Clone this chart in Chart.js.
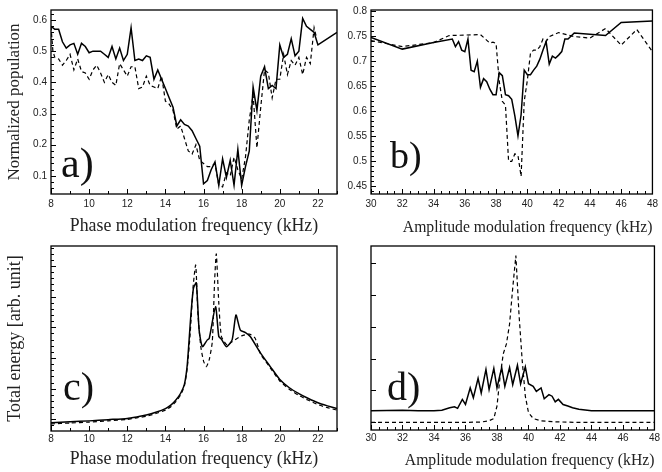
<!DOCTYPE html>
<html>
<head>
<meta charset="utf-8">
<script src="https://cdn.jsdelivr.net/npm/chart.js@4.4.1/dist/chart.umd.min.js"></script>
<style>
html, body { margin: 0; padding: 0; background: #fff; }
#wrap { position: relative; width: 662px; height: 472px; overflow: hidden; }
#wrap canvas { position: absolute; }
</style>
</head>
<body>
<div id="wrap">
  <canvas id="pa" width="340" height="240" style="left:0;top:0"></canvas>
  <canvas id="pb" width="332" height="240" style="left:330px;top:0"></canvas>
  <canvas id="pc" width="340" height="236" style="left:0;top:236px"></canvas>
  <canvas id="pd" width="332" height="236" style="left:330px;top:236px"></canvas>
</div>
<script>
// ---- panel a: phase modulation, normalized population ----
const aSolidX = [8,8.2,8.4,8.6,8.8,9,9.2,9.4,9.6,9.8,10,10.2,10.4,10.6,10.8,11,11.2,11.4,11.6,11.8,12,12.2,12.4,12.6,12.8,13,13.2,13.4,13.6,13.8,14,14.2,14.4,14.6,14.8,15,15.2,15.4,15.6,15.8,16,16.2,16.4,16.6,16.8,17,17.2,17.4,17.6,17.8,18,18.2,18.4,18.6,18.8,19,19.2,19.4,19.6,19.8,20,20.2,20.4,20.6,20.8,21,21.2,21.4,21.6,21.8,22,23];
const aSolidY = [0.58,0.57,0.57,0.53,0.51,0.52,0.525,0.49,0.525,0.515,0.495,0.5,0.5,0.5,0.49,0.48,0.515,0.475,0.51,0.47,0.49,0.575,0.47,0.475,0.47,0.485,0.48,0.41,0.44,0.41,0.38,0.35,0.32,0.26,0.28,0.265,0.26,0.245,0.22,0.195,0.075,0.085,0.12,0.145,0.07,0.155,0.095,0.15,0.07,0.185,0.07,0.13,0.18,0.385,0.31,0.42,0.45,0.38,0.39,0.38,0.52,0.48,0.49,0.54,0.485,0.5,0.605,0.58,0.57,0.56,0.52,0.56];
const aDashX = [8,8.1,8.2,8.4,8.6,8.8,9,9.2,9.4,9.6,9.8,10,10.2,10.4,10.6,10.8,11,11.2,11.4,11.6,11.8,12,12.2,12.4,12.6,12.8,13,13.2,13.4,13.6,13.8,14,14.2,14.4,14.6,14.8,15,15.2,15.4,15.6,15.8,16,16.2,16.4,16.6,16.8,17,17.2,17.4,17.6,17.8,18,18.2,18.4,18.6,18.8,19,19.2,19.4,19.6,19.8,20,20.2,20.4,20.6,20.8,21,21.2,21.4,21.6,21.8,21.9];
const aDashY = [0.58,0.5,0.48,0.475,0.455,0.47,0.49,0.44,0.475,0.435,0.43,0.41,0.44,0.455,0.43,0.4,0.425,0.4,0.39,0.46,0.44,0.42,0.45,0.45,0.38,0.385,0.42,0.39,0.385,0.38,0.42,0.34,0.33,0.31,0.25,0.26,0.22,0.18,0.17,0.2,0.15,0.14,0.13,0.13,0.14,0.07,0.065,0.11,0.1,0.16,0.12,0.09,0.16,0.28,0.36,0.19,0.32,0.44,0.43,0.35,0.41,0.41,0.49,0.425,0.47,0.455,0.48,0.425,0.48,0.46,0.575,0.55];
const aXTicks = [8,10,12,14,16,18,20,22];
const aYTicks = [0.1,0.2,0.3,0.4,0.5,0.6];

// ---- panel b: amplitude modulation, normalized population ----
const bSolidX = [30,32,34,35.2,35.4,35.6,35.8,36,36.2,36.4,36.6,36.8,37,37.2,37.4,37.6,37.8,38,38.2,38.4,38.6,38.8,39,39.2,39.4,39.6,39.8,40,40.2,40.4,40.6,40.8,41,41.2,41.4,41.6,41.8,42,42.2,42.4,42.6,43,45,46,48];
const bSolidY = [0.747,0.724,0.737,0.744,0.729,0.739,0.722,0.719,0.744,0.682,0.679,0.7,0.648,0.665,0.659,0.644,0.633,0.633,0.677,0.671,0.633,0.631,0.624,0.591,0.551,0.593,0.682,0.673,0.673,0.682,0.69,0.704,0.722,0.739,0.694,0.71,0.706,0.712,0.719,0.744,0.744,0.756,0.751,0.777,0.78];
const bDashX = [30,32,34,35,37,37.6,37.8,38,38.2,38.4,38.6,38.8,39,39.2,39.4,39.6,39.8,40,40.2,40.4,40.6,40.8,41,41.2,41.4,42,43,44,45,46,47,48];
const bDashY = [0.741,0.729,0.737,0.751,0.753,0.736,0.738,0.735,0.66,0.62,0.612,0.5,0.5,0.515,0.512,0.47,0.62,0.662,0.716,0.722,0.722,0.729,0.744,0.739,0.749,0.757,0.749,0.746,0.765,0.732,0.763,0.719];
const bXTicks = [30,32,34,36,38,40,42,44,46,48];
const bYTicks = [0.45,0.5,0.55,0.6,0.65,0.7,0.75,0.8];

// ---- panel c: phase modulation, total energy (arb. unit) ----
const cSolidX = [8,9,10,11,12,12.5,13,13.5,14,14.3,14.55,14.8,15,15.15,15.33,15.47,15.62,15.77,15.94,16.2,16.3,16.63,16.8,16.93,17.2,17.5,17.7,17.93,18.2,18.45,19,19.5,20,20.5,21,21.5,22,22.5,23];
const cSolidY = [-0.11,-0.08,-0.05,-0.01,0.03,0.08,0.14,0.23,0.35,0.47,0.63,0.85,1.15,1.8,3.35,4.27,4.45,2.9,2.37,2.59,2.64,3.67,2.7,2.62,2.37,2.59,3.4,2.91,2.83,2.7,2.15,1.72,1.3,1.03,0.84,0.68,0.54,0.44,0.35];
const cDashX = [8,9,10,11,12,12.5,13,13.5,14,14.3,14.55,14.8,15,15.15,15.3,15.45,15.59,15.7,15.85,16,16.15,16.3,16.46,16.58,16.67,16.8,16.94,17.24,17.5,18,18.4,18.7,19,19.5,20,20.5,21,21.5,22,22.5,23];
const cDashY = [-0.15,-0.12,-0.09,-0.05,0,0.05,0.1,0.19,0.3,0.42,0.58,0.8,1.1,1.7,2.8,4.3,5.03,3.5,2.4,1.9,1.72,1.95,2.53,4.5,5.39,3.8,2.7,2.42,2.53,2.72,2.78,2.65,2.12,1.68,1.25,0.98,0.78,0.62,0.48,0.38,0.3];
const cXTicks = [8,10,12,14,16,18,20,22];

// ---- panel d: amplitude modulation, total energy (arb. unit) ----
const dSolidX = [30,31,32,33,34,34.5,35,35.3,35.5,35.8,36,36.3,36.5,36.8,37,37.3,37.5,37.8,38,38.3,38.5,38.8,39,39.3,39.5,39.8,40,40.3,40.5,40.8,41,41.3,41.5,41.7,41.9,42.2,42.5,42.8,43.2,44,45,46,47,48];
const dSolidY = [0.36,0.37,0.38,0.36,0.36,0.38,0.46,0.49,0.44,0.72,0.56,1.08,0.77,1.38,0.92,1.66,1.03,1.69,1.08,1.72,1.13,1.72,1.18,1.79,1.21,1.74,1.21,1.13,0.97,1.08,0.74,0.87,0.82,0.64,0.72,0.56,0.51,0.46,0.41,0.36,0.36,0.36,0.36,0.36];
const dDashX = [30,32,34,36,37,37.5,37.8,38,38.2,38.4,38.6,38.8,39,39.2,39.4,39.6,39.8,40,40.3,40.8,41.5,43,48];
const dDashY = [0,0,0,0,0.01,0.05,0.12,0.51,1.44,2.15,2.46,3.08,4.21,5.23,3.38,1.95,0.82,0.31,0.12,0.05,0.02,0,0];
const dXTicks = [30,32,34,36,38,40,42,44,46,48];

const zip = (xs, ys) => xs.map((x, i) => ({ x: x, y: ys[i] }));

// box frame, inward tick marks and the big panel letter
const frameTicks = {
    id: 'frameTicks',
    afterDraw(chart, args, o) {
        const { ctx, chartArea: ca, scales } = chart;
        ctx.save();
        ctx.strokeStyle = '#000';
        ctx.lineWidth = 1;
        const marks = (scale, major, minor, horiz) => {
            const k0 = Math.ceil(scale.min / minor - 1e-6);
            for (let k = k0; k * minor <= scale.max + 1e-9; k++) {
                const v = k * minor;
                const isMajor = Math.abs(v / major - Math.round(v / major)) < 1e-6;
                const len = isMajor ? 5 : 3;
                const p = Math.round(scale.getPixelForValue(v)) + 0.5;
                ctx.beginPath();
                if (horiz) { ctx.moveTo(p, ca.bottom); ctx.lineTo(p, ca.bottom - len); }
                else { ctx.moveTo(ca.left, p); ctx.lineTo(ca.left + len, p); }
                ctx.stroke();
            }
        };
        marks(scales.x, o.xMajor, o.xMinor, true);
        marks(scales.y, o.yMajor, o.yMinor, false);
        ctx.lineWidth = 1.3;
        ctx.strokeRect(ca.left, ca.top, ca.right - ca.left, ca.bottom - ca.top);
        ctx.fillStyle = '#111';
        ctx.font = o.size + 'px "Liberation Serif"';
        ctx.textBaseline = 'alphabetic';
        ctx.textAlign = 'left';
        ctx.fillText(o.label, ca.left + o.dx, ca.bottom - o.dy);
        ctx.restore();
    }
};

const tickFont = { family: '"Liberation Sans", Arial, sans-serif', size: 10 };

const makePanel = (id, p) => new Chart(document.getElementById(id), {
    type: 'line',
    data: {
        datasets: [
            { data: zip(p.sx, p.sy), borderColor: '#000', borderWidth: 1.5, pointRadius: 0, tension: p.tension },
            { data: zip(p.dx, p.dy), borderColor: '#000', borderWidth: 1.2, borderDash: [4, 3], pointRadius: 0, tension: p.tension }
        ]
    },
    options: {
        responsive: false,
        animation: false,
        events: [],
        layout: { padding: p.pad },
        plugins: { legend: { display: false }, tooltip: { enabled: false }, frameTicks: p.marks },
        scales: {
            x: {
                type: 'linear', min: p.xMin, max: p.xMax,
                grid: { display: false, drawTicks: false }, border: { display: false },
                ticks: { font: tickFont, color: '#222', padding: p.xPad, maxRotation: 0, callback: v => String(v) },
                afterBuildTicks: s => { s.ticks = p.xTicks.map(v => ({ value: v })); },
                afterFit: s => { s.height = p.xh; },
                title: { display: true, text: p.xTitle, align: p.xAlign, color: '#222',
                         font: { family: '"Liberation Serif", serif', size: p.titleSize }, padding: { top: 0, bottom: p.xTitlePad } }
            },
            y: {
                type: 'linear', min: p.yMin, max: p.yMax,
                grid: { display: false, drawTicks: false }, border: { display: false },
                ticks: { display: p.yTicks.length > 0, font: tickFont, color: '#222', padding: 4, callback: v => String(v) },
                afterBuildTicks: s => { s.ticks = p.yTicks.map(v => ({ value: v })); },
                afterFit: s => { s.width = p.yw; },
                title: { display: p.yTitle !== '', text: p.yTitle, color: '#222',
                         font: { family: '"Liberation Serif", serif', size: p.yTitleSize }, padding: { top: 4, bottom: 0 } }
            }
        }
    },
    plugins: [frameTicks]
});

makePanel('pa', {
    sx: aSolidX, sy: aSolidY, dx: aDashX, dy: aDashY, tension: 0,
    xMin: 8, xMax: 23, yMin: 0.042, yMax: 0.632, xTicks: aXTicks, yTicks: aYTicks,
    pad: { top: 9, right: 3, left: 0, bottom: 0 }, xh: 46, yw: 51, xPad: 4, xTitlePad: 3,
    xAlign: 'center', titleSize: 17.8, yTitleSize: 17,
    xTitle: 'Phase modulation frequency (kHz)', yTitle: 'Normalized population',
    marks: { xMajor: 2, xMinor: 1, yMajor: 0.1, yMinor: 0.02, label: 'a)', size: 42, dx: 10, dy: 17 }
});

makePanel('pb', {
    sx: bSolidX, sy: bSolidY, dx: bDashX, dy: bDashY, tension: 0,
    xMin: 30, xMax: 48, yMin: 0.435, yMax: 0.802, xTicks: bXTicks, yTicks: bYTicks,
    pad: { top: 10, right: 7, left: 0, bottom: 0 }, xh: 46, yw: 41, xPad: 4, xTitlePad: 3,
    xAlign: 'end', titleSize: 15.7, yTitleSize: 17,
    xTitle: 'Amplitude modulation frequency (kHz)', yTitle: '',
    marks: { xMajor: 2, xMinor: 0.5, yMajor: 0.05, yMinor: 0.01, label: 'b)', size: 38, dx: 19, dy: 26 }
});

makePanel('pc', {
    sx: cSolidX, sy: cSolidY, dx: cDashX, dy: cDashY, tension: 0.2,
    xMin: 8, xMax: 23, yMin: -0.38, yMax: 5.65, xTicks: cXTicks, yTicks: [],
    pad: { top: 10, right: 3, left: 0, bottom: 0 }, xh: 41, yw: 51, xPad: 2, xTitlePad: 2,
    xAlign: 'center', titleSize: 17.8, yTitleSize: 18,
    xTitle: 'Phase modulation frequency (kHz)', yTitle: 'Total energy [arb. unit]',
    marks: { xMajor: 2, xMinor: 1, yMajor: 1, yMinor: 0.2, label: 'c)', size: 40, dx: 12, dy: 31 }
});

makePanel('pd', {
    sx: dSolidX, sy: dSolidY, dx: dDashX, dy: dDashY, tension: 0,
    xMin: 30, xMax: 48, yMin: -0.24, yMax: 5.53, xTicks: dXTicks, yTicks: [],
    pad: { top: 10, right: 7, left: 0, bottom: 0 }, xh: 42, yw: 41, xPad: 2, xTitlePad: 2,
    xAlign: 'end', titleSize: 15.7, yTitleSize: 17,
    xTitle: 'Amplitude modulation frequency (kHz)', yTitle: '',
    marks: { xMajor: 2, xMinor: 0.5, yMajor: 1, yMinor: 1, label: 'd)', size: 40, dx: 16, dy: 30 }
});
</script>
</body>
</html>
